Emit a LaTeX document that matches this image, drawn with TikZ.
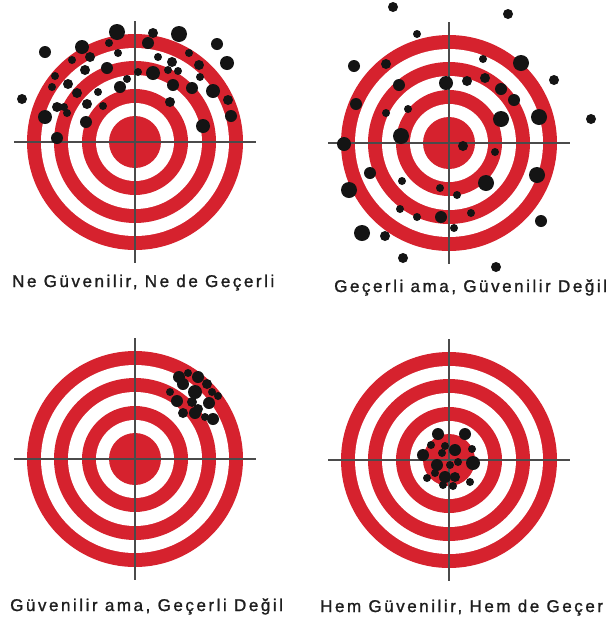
\documentclass[tikz,border=0pt]{standalone}
\usepackage{fontspec}
\newfontfamily\labelfont[LetterSpace=15, FakeBold=1.2]{Liberation Sans}
\usetikzlibrary{positioning}
\definecolor{targetred}{RGB}{214,34,46}
\definecolor{crossgray}{RGB}{75,75,75}
\definecolor{holeblack}{RGB}{20,20,20}
\definecolor{textblack}{RGB}{30,30,30}

\begin{document}
\begin{tikzpicture}[
  x=1pt, y=-1pt,
  tlabel/.style={font=\labelfont\fontsize{17}{20}\selectfont, text=textblack,
                 inner sep=0pt, anchor=base west},
  cross/.style={crossgray, line width=1.3pt},
  hole/.style={fill=holeblack}
]
  \useasboundingbox[fill=white] (0,0) rectangle (608,630);

  % target centres
  \coordinate (t1) at (135,142);
  \coordinate (t2) at (449,143);
  \coordinate (t3) at (135,459);
  \coordinate (t4) at (449,460);

  % rings and cross hairs
  \foreach \c in {t1,t2,t3,t4} {
    \foreach \r/\col in {108/targetred, 94/white, 81/targetred, 67/white,
                         53/targetred, 39/white, 26/targetred}
      \fill[\col] (\c) circle[radius=\r pt];
    \draw[cross] (\c) ++(-121,0) -- ++(242,0);
    \draw[cross] (\c) ++(0,-121) -- ++(0,242);
  }

  % neither reliable nor valid
  \foreach \x/\y/\r in {117/32/7, 153/33/4, 179/34/7, 148/43/5, 45/52/5, 82/47/6,
      109/43/3, 217/44/5, 227/63/6, 90/57/4, 118/53/3, 158/57/3, 172/62/4,
      189/53/3, 199/65/4, 72/60/3, 85/70/4, 107/68/5, 138/72/3, 153/73/6,
      168/70/3, 178/71/3, 200/77/3, 127/79/3, 55/76/3, 68/84/4, 52/87/3,
      77/93/4, 120/87/5, 173/85/5, 192/88/5, 213/91/6, 98/92/3, 22/99/4,
      228/100/4, 170/102/4, 57/107/4, 64/107/3, 87/104/4, 103/106/3, 67/113/3,
      45/117/6, 231/116/5, 86/122/5, 203/126/6, 57/138/5}
    \fill[hole] (\x,\y) circle[radius=\r pt+1pt];

  % valid but not reliable
  \foreach \x/\y/\r in {393/7/4, 508/14/4, 417/34/3, 354/66/5, 386/64/4, 483/59/3,
      521/63/7, 554/80/4, 446/83/6, 467/81/4, 485/78/4, 399/85/5, 501/89/5,
      514/100/5, 356/104/5, 408/109/3, 386/113/3, 501/119/7, 539/117/7,
      591/119/4, 401/136/7, 344/144/6, 463/146/4, 495/152/3, 370/173/5,
      402/181/3, 486/183/7, 537/175/7, 349/190/7, 440/188/3, 457/195/3,
      400/209/3, 417/217/3, 441/217/5, 471/213/3, 454/228/3, 362/233/7,
      385/236/4, 541/221/5, 403/258/4, 496/267/4}
    \fill[hole] (\x,\y) circle[radius=\r pt+1pt];

  % reliable but not valid
  \foreach \x/\y/\r in {179/377/5, 198/377/5, 188/373/3, 183/384/5, 195/392/6,
      207/384/4, 212/392/3, 170/392/3, 218/396/3, 177/401/5, 192/402/4,
      209/403/5, 198/409/4, 183/413/4, 195/413/5, 213/419/5, 205/417/3}
    \fill[hole] (\x,\y) circle[radius=\r pt+1pt];

  % reliable and valid
  \foreach \x/\y/\r in {438/434/5, 465/434/5, 431/445/3, 445/446/3, 455/450/5,
      472/449/3, 423/455/5, 442/453/3, 458/462/3, 473/463/6, 437/465/5,
      450/465/3, 427/478/3, 445/477/5, 455/477/4, 470/482/3, 443/485/3,
      453/486/3, 435/473/3}
    \fill[hole] (\x,\y) circle[radius=\r pt+1pt];

  % captions
  \node[tlabel] (lab1) at (12,287) {Ne Güvenilir, Ne de Geçerli};
  \node[tlabel] (lab2) at (334,292) {Geçerli ama, Güvenilir Değil};
  \node[tlabel] (lab3) at (10,611) {Güvenilir ama, Geçerli Değil};
  \node[tlabel] (lab4) at (320,612) {Hem Güvenilir, Hem de Geçer};
\end{tikzpicture}
\end{document}
